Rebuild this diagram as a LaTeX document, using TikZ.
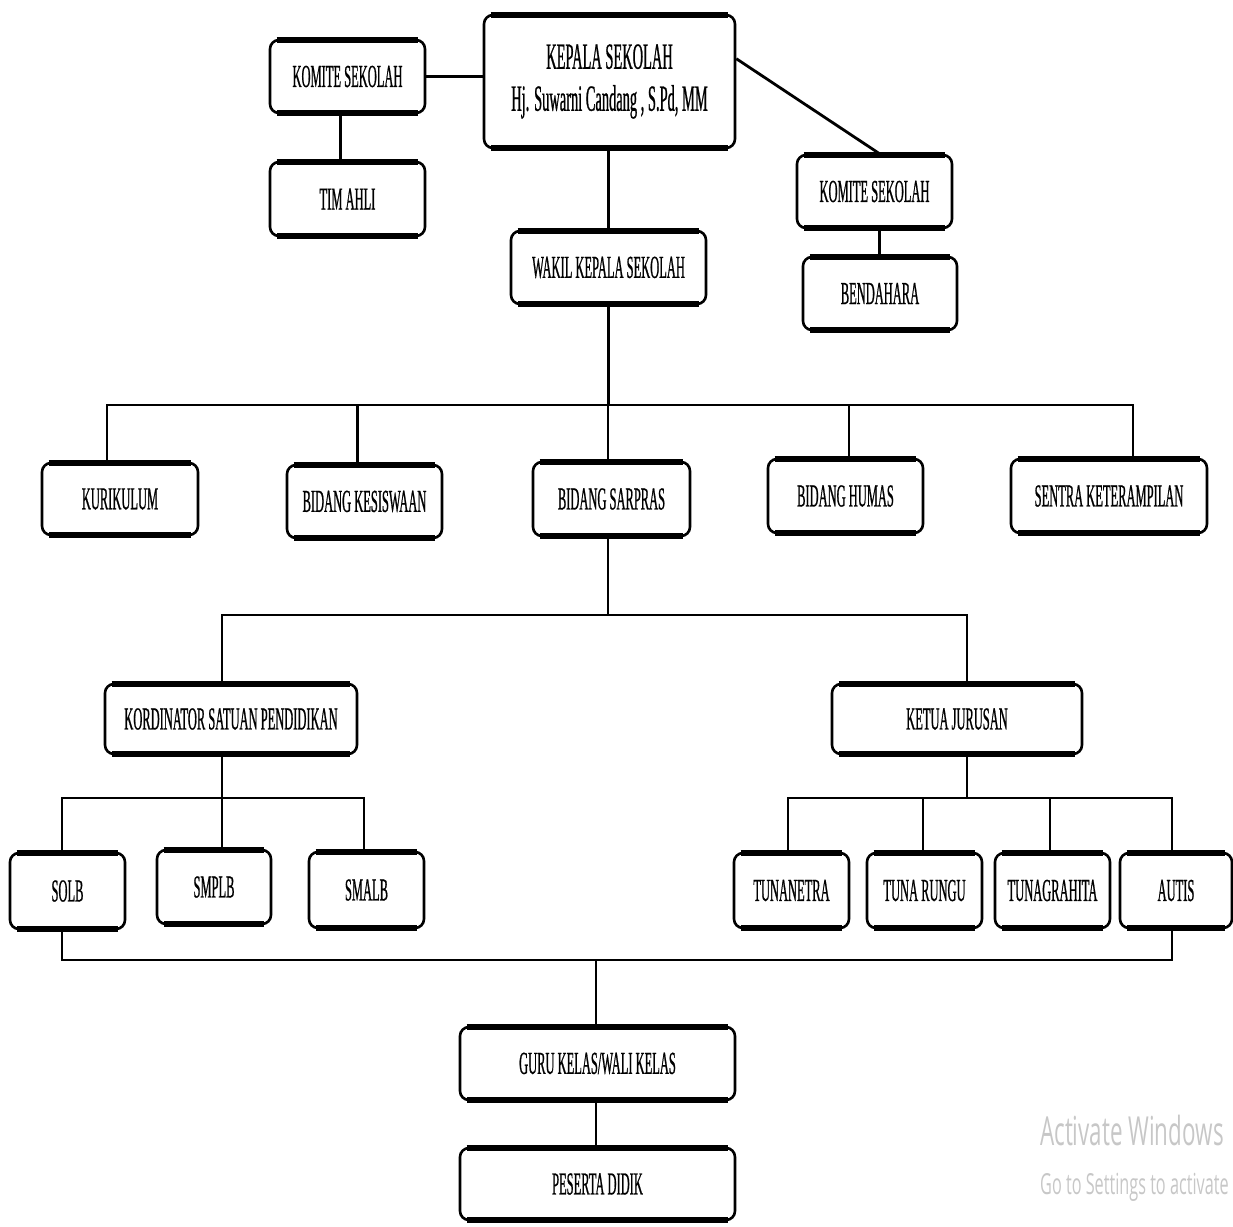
\documentclass[tikz,border=0pt]{standalone}
\usepackage{fontspec}
\newfontfamily\cond[FakeStretch=0.39,FakeBold=0.6]{Liberation Serif}
\newfontfamily\wmfont[FakeStretch=0.56]{Open Sans}
\begin{document}
\begin{tikzpicture}[x=1pt,y=-1pt,
  orgbox/.style={draw, fill=white, line width=2.6pt, rounded corners=9pt,
    inner sep=0pt, align=center, font=\cond\fontsize{32}{42}\selectfont},
  conn/.style={line width=2.8pt},
  heavy/.style={line width=6pt, line cap=butt}]
\useasboundingbox (0,0) rectangle (1233,1226);
% nodes
\node[orgbox, minimum width=251pt, minimum height=133pt, font=\cond\fontsize{37}{42}\selectfont] (kepala) at (609.5,81.5) {KEPALA SEKOLAH\\Hj. Suwarni Candang , S.Pd, MM};
\node[orgbox, minimum width=155pt, minimum height=73pt] (komite1) at (347.5,76.5) {KOMITE SEKOLAH};
\node[orgbox, minimum width=155pt, minimum height=74pt] (timahli) at (347.5,199) {TIM AHLI};
\node[orgbox, minimum width=155pt, minimum height=73pt] (komite2) at (874.5,191.5) {KOMITE SEKOLAH};
\node[orgbox, minimum width=154pt, minimum height=73pt] (bendahara) at (880,293.5) {BENDAHARA};
\node[orgbox, minimum width=195pt, minimum height=73pt] (wakil) at (608.5,267.5) {WAKIL KEPALA SEKOLAH};
\node[orgbox, minimum width=156pt, minimum height=72pt] (kurikulum) at (120,499) {KURIKULUM};
\node[orgbox, minimum width=155pt, minimum height=73pt] (kesiswaan) at (364.5,501.5) {BIDANG KESISWAAN};
\node[orgbox, minimum width=157pt, minimum height=74pt] (sarpras) at (611.5,499) {BIDANG SARPRAS};
\node[orgbox, minimum width=155pt, minimum height=74pt] (humas) at (845.5,496) {BIDANG HUMAS};
\node[orgbox, minimum width=196pt, minimum height=74pt] (sentra) at (1109,496) {SENTRA KETERAMPILAN};
\node[orgbox, minimum width=252pt, minimum height=70pt] (kordinator) at (231,719) {KORDINATOR SATUAN PENDIDIKAN};
\node[orgbox, minimum width=250pt, minimum height=70pt] (ketua) at (957,719) {KETUA JURUSAN};
\node[orgbox, minimum width=115pt, minimum height=76pt] (solb) at (67.5,891) {SOLB};
\node[orgbox, minimum width=114pt, minimum height=74pt] (smplb) at (214,887) {SMPLB};
\node[orgbox, minimum width=115pt, minimum height=76pt] (smalb) at (366.5,890) {SMALB};
\node[orgbox, minimum width=115pt, minimum height=75pt] (tunanetra) at (791.5,890.5) {TUNANETRA};
\node[orgbox, minimum width=115pt, minimum height=75pt] (tunarungu) at (924.5,890.5) {TUNA RUNGU};
\node[orgbox, minimum width=115pt, minimum height=75pt] (tunagrahita) at (1052.5,890.5) {TUNAGRAHITA};
\node[orgbox, minimum width=112pt, minimum height=75pt] (autis) at (1176,890.5) {AUTIS};
\node[orgbox, minimum width=275pt, minimum height=73pt] (guru) at (597.5,1063.5) {GURU KELAS/WALI KELAS};
\node[orgbox, minimum width=275pt, minimum height=72pt] (peserta) at (597.5,1184) {PESERTA DIDIK};
% bus coordinates
\coordinate (b1) at (608,405);
\coordinate (b2) at (608,615);
\coordinate (b3) at (222,798);
\coordinate (b4) at (967,798);
\coordinate (b5) at (596,960);
% connectors
\draw[conn] (komite1.east) -- (komite1.east -| kepala.west);
\draw[conn] ([xshift=-7pt]komite1.south) -- ([xshift=-7pt]timahli.north);
\draw[conn] ([yshift=-45pt]kepala.north east) -- ([xshift=5pt]komite2.north);
\draw[conn] ([xshift=5pt]komite2.south) -- ([xshift=5pt]komite2.south |- bendahara.north);
\draw[conn] ([xshift=-1pt]kepala.south) -- (wakil.north);
\draw[conn] (wakil.south) -- (wakil.south |- b1);
\draw[conn] ([xshift=-13pt]kurikulum.north) |- ([xshift=24pt]sentra.north |- b1) -- ([xshift=24pt]sentra.north);
\draw[conn] ([xshift=-7pt]kesiswaan.north) -- ([xshift=-7pt]kesiswaan.north |- b1);
\draw[conn] ([xshift=-3.5pt]sarpras.north) -- ([xshift=-3.5pt]sarpras.north |- b1);
\draw[conn] ([xshift=3.5pt]humas.north) -- ([xshift=3.5pt]humas.north |- b1);
\draw[conn] ([xshift=-3.5pt]sarpras.south) -- ([xshift=-3.5pt]sarpras.south |- b2);
\draw[conn] ([xshift=-9pt]kordinator.north) |- ([xshift=10pt]ketua.north |- b2) -- ([xshift=10pt]ketua.north);
\draw[conn] ([xshift=-9pt]kordinator.south) -- ([xshift=-9pt]kordinator.south |- b3);
\draw[conn] ([xshift=-5.5pt]solb.north) |- ([xshift=-2.5pt]smalb.north |- b3) -- ([xshift=-2.5pt]smalb.north);
\draw[conn] ([xshift=8pt]smplb.north) -- ([xshift=8pt]smplb.north |- b3);
\draw[conn] ([xshift=10pt]ketua.south) -- ([xshift=10pt]ketua.south |- b4);
\draw[conn] ([xshift=-3.5pt]tunanetra.north) |- ([xshift=-4pt]autis.north |- b4) -- ([xshift=-4pt]autis.north);
\draw[conn] ([xshift=-1.5pt]tunarungu.north) -- ([xshift=-1.5pt]tunarungu.north |- b4);
\draw[conn] ([xshift=-2.5pt]tunagrahita.north) -- ([xshift=-2.5pt]tunagrahita.north |- b4);
\draw[conn] ([xshift=-5.5pt]solb.south) |- ([xshift=-4pt]autis.south |- b5) -- ([xshift=-4pt]autis.south);
\draw[conn] ([xshift=-1.5pt]guru.north) -- ([xshift=-1.5pt]guru.north |- b5);
\draw[conn] ([xshift=-1.5pt]guru.south) -- ([xshift=-1.5pt]peserta.north);
% heavy top and bottom edges
\foreach \n in {kepala,komite1,timahli,komite2,bendahara,wakil,kurikulum,kesiswaan,sarpras,humas,sentra,kordinator,ketua,solb,smplb,smalb,tunanetra,tunarungu,tunagrahita,autis,guru,peserta}{
  \draw[heavy] ([xshift=8pt,yshift=-1.5pt]\n.north west) -- ([xshift=-8pt,yshift=-1.5pt]\n.north east);
  \draw[heavy] ([xshift=8pt,yshift=1.5pt]\n.south west) -- ([xshift=-8pt,yshift=1.5pt]\n.south east);
}
% watermark
\node[anchor=west, text=black!22, font=\wmfont\fontsize{40}{42}\selectfont, inner sep=0pt] (wm1) at (1040,1130) {Activate Windows};
\node[anchor=west, text=black!22, font=\wmfont\fontsize{29}{31}\selectfont, inner sep=0pt] (wm2) at (1040,1187) {Go to Settings to activate};
\end{tikzpicture}
\end{document}
